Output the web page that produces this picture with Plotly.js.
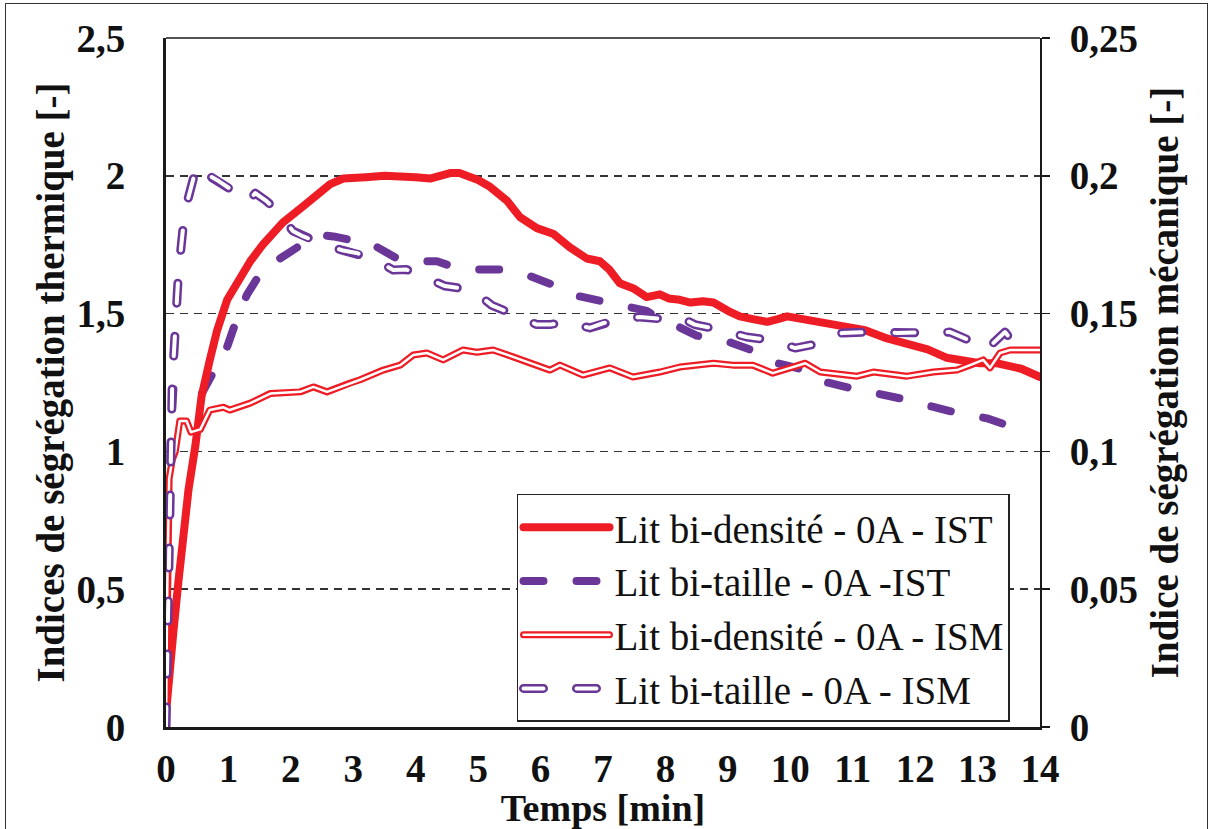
<!DOCTYPE html>
<html>
<head>
<meta charset="utf-8">
<script src="https://cdn.plot.ly/plotly-3.0.1.min.js"></script>
<style>
  html, body { margin: 0; padding: 0; background: #fff; }
  #wrap { position: relative; width: 1211px; height: 829px; overflow: hidden; }
  #chart { width: 1211px; height: 829px; }
  #frame { position: absolute; left: 5px; top: 3px; width: 1201px; height: 840px;
           border: 1.5px solid #333; pointer-events: none; }
  path.js-line { stroke-linecap: round; stroke-linejoin: round; }
</style>
</head>
<body>
<div id="wrap"><div id="chart"></div><div id="frame"></div></div>
<script>
// ---- Data ----
// Lit bi-densité - 0A - IST (left axis)
const tDensIST = [0, 0.01, 0.06, 0.12, 0.2, 0.28, 0.36, 0.47, 0.57, 0.7, 0.82, 0.98, 1.19, 1.35, 1.55, 1.87, 2.2, 2.4, 2.63, 2.84, 3.0, 3.2, 3.5, 3.8, 4.0, 4.23, 4.4, 4.55, 4.7, 4.87, 5.0, 5.19, 5.46, 5.67, 5.94, 6.2, 6.47, 6.74, 6.95, 7.1, 7.27, 7.5, 7.7, 7.91, 8.05, 8.23, 8.4, 8.6, 8.77, 9.0, 9.19, 9.4, 9.63, 9.8, 9.95, 10.2, 10.48, 10.9, 11.2, 11.55, 11.97, 12.2, 12.5, 12.8, 13.04, 13.3, 13.47, 13.7, 13.9, 14.0];
const vDensIST = [0.05, 0.08, 0.17, 0.35, 0.53, 0.71, 0.86, 1.02, 1.2, 1.33, 1.44, 1.55, 1.63, 1.69, 1.75, 1.83, 1.89, 1.93, 1.97, 1.99, 1.99, 1.995, 2.0, 2.0, 1.995, 1.99, 2.0, 2.01, 2.01, 2.0, 1.985, 1.96, 1.91, 1.85, 1.81, 1.79, 1.74, 1.70, 1.69, 1.66, 1.61, 1.59, 1.56, 1.57, 1.555, 1.55, 1.54, 1.545, 1.54, 1.51, 1.49, 1.48, 1.47, 1.48, 1.49, 1.48, 1.47, 1.45, 1.44, 1.41, 1.38, 1.37, 1.34, 1.33, 1.32, 1.32, 1.31, 1.30, 1.28, 1.27];

// Lit bi-taille - 0A -IST (left axis)
const tTailIST = [0, 0.02, 0.04, 0.06, 0.08, 0.12, 0.3, 0.55, 0.7, 0.82, 0.98, 1.15, 1.3, 1.55, 1.87, 2.1, 2.3, 2.5, 2.68, 2.9, 3.16, 3.48, 3.7, 3.96, 4.34, 4.6, 4.82, 5.19, 5.4, 5.67, 6.04, 6.25, 6.47, 6.84, 7.1, 7.32, 7.7, 7.9, 8.07, 8.23, 8.5, 8.75, 8.98, 9.35, 9.6, 9.79, 10.15, 10.4, 10.59, 10.96, 11.2, 11.44, 11.81, 12.05, 12.29, 12.67, 12.9, 13.15, 13.6, 13.8];
const vTailIST = [0, 0.3, 0.6, 0.9, 1.1, 1.23, 1.21, 1.2, 1.26, 1.32, 1.38, 1.49, 1.57, 1.66, 1.71, 1.74, 1.76, 1.785, 1.78, 1.77, 1.77, 1.73, 1.70, 1.69, 1.69, 1.67, 1.66, 1.66, 1.66, 1.65, 1.62, 1.60, 1.57, 1.55, 1.54, 1.53, 1.51, 1.48, 1.46, 1.45, 1.42, 1.41, 1.40, 1.37, 1.34, 1.32, 1.30, 1.27, 1.25, 1.23, 1.22, 1.21, 1.19, 1.175, 1.16, 1.14, 1.13, 1.12, 1.085, 1.07];

// Lit bi-densité - 0A - ISM (right axis)
const tDensISM = [0, 0.02, 0.05, 0.1, 0.15, 0.22, 0.33, 0.4, 0.55, 0.7, 0.92, 1.02, 1.35, 1.67, 2.15, 2.36, 2.58, 2.95, 3.11, 3.48, 3.75, 3.96, 4.18, 4.44, 4.76, 4.98, 5.24, 5.56, 5.83, 6.15, 6.31, 6.68, 7.11, 7.48, 7.91, 8.23, 8.77, 9.08, 9.4, 9.72, 10.0, 10.24, 10.48, 11.07, 11.33, 11.87, 12.29, 12.67, 12.88, 13.09, 13.2, 13.36, 13.52, 14.0];
const vDensISM = [0, 0.05, 0.09, 0.097, 0.1, 0.111, 0.111, 0.107, 0.108, 0.115, 0.116, 0.115, 0.1175, 0.121, 0.1216, 0.1234, 0.1216, 0.1248, 0.126, 0.1295, 0.1313, 0.135, 0.1357, 0.1332, 0.1368, 0.136, 0.1368, 0.1343, 0.132, 0.1295, 0.1313, 0.1277, 0.1303, 0.127, 0.1288, 0.1306, 0.132, 0.1313, 0.1313, 0.1284, 0.1303, 0.132, 0.1288, 0.1273, 0.1288, 0.1273, 0.1288, 0.1295, 0.1313, 0.1332, 0.1303, 0.1357, 0.1368, 0.1368];

// Lit bi-taille - 0A - ISM (right axis)
const tTailISM = [0, 0.03, 0.06, 0.1, 0.2, 0.3, 0.45, 0.55, 0.62, 0.7, 0.85, 1.11, 1.3, 1.43, 1.6, 1.8, 2.03, 2.2, 2.47, 2.82, 3.05, 3.32, 3.64, 3.85, 4.07, 4.47, 4.9, 5.22, 5.59, 5.94, 6.15, 6.39, 6.79, 7.0, 7.22, 7.59, 8.0, 8.23, 8.47, 8.9, 9.3, 9.67, 10.08, 10.48, 10.83, 11.3, 11.71, 12.13, 12.56, 12.93, 13.09, 13.25, 13.44, 13.52, 13.7, 13.87];
const vTailISM = [0, 0.04, 0.08, 0.125, 0.165, 0.187, 0.2, 0.204, 0.201, 0.2, 0.198, 0.194, 0.1905, 0.1937, 0.191, 0.187, 0.18, 0.178, 0.1756, 0.173, 0.172, 0.170, 0.1658, 0.166, 0.164, 0.160, 0.1586, 0.153, 0.1495, 0.146, 0.146, 0.147, 0.1448, 0.1465, 0.1477, 0.1488, 0.148, 0.1488, 0.146, 0.144, 0.1415, 0.1404, 0.1375, 0.1393, 0.143, 0.1433, 0.143, 0.143, 0.1433, 0.1397, 0.1368, 0.1393, 0.1433, 0.141, 0.139, 0.1386];

// Tick labels
const xTickVals = [0,1,2,3,4,5,6,7,8,9,10,11,12,13,14];
const xTickText = ['0','1','2','3','4','5','6','7','8','9','10','11','12','13','14'];
const yTickVals = [0, 0.5, 1, 1.5, 2, 2.5];
const yTickText = ['0','0,5','1','1,5','2','2,5'];
const y2TickVals = [0, 0.05, 0.1, 0.15, 0.2, 0.25];
const y2TickText = ['0','0,05','0,1','0,15','0,2','0,25'];

const names = ['Lit bi-densité - 0A - IST', 'Lit bi-taille - 0A -IST', 'Lit bi-densité - 0A - ISM', 'Lit bi-taille - 0A - ISM'];

// ---- Styles ----
const RED = '#ee1c24';
const PURPLE = '#6a3799';
const DASH = '20px,33px';
const TR = 'rgba(0,0,0,0)';
const FONT = 'Liberation Serif';

const traces = [
  // legend2 placeholders (transparent) so rows line up
  {x: tDensIST, y: vDensIST, mode: 'lines', name: names[0], legend: 'legend2', legendrank: 1,
   line: {color: TR, width: 1}, hoverinfo: 'skip'},
  {x: tTailIST, y: vTailIST, mode: 'lines', name: names[1], legend: 'legend2', legendrank: 2,
   line: {color: TR, width: 1}, hoverinfo: 'skip'},
  // thick IST lines
  {x: tTailIST, y: vTailIST, mode: 'lines', name: names[1], legendrank: 2,
   line: {color: PURPLE, width: 8, dash: DASH}},
  {x: tDensIST, y: vDensIST, mode: 'lines', name: names[0], legendrank: 1,
   line: {color: RED, width: 8}},
  // ISM hollow lines (right axis)
  {x: tDensISM, y: vDensISM, mode: 'lines', name: names[2], yaxis: 'y2', legendrank: 3,
   line: {color: RED, width: 7}},
  {x: tDensISM, y: vDensISM, mode: 'lines', name: names[2], yaxis: 'y2', legend: 'legend2', legendrank: 3,
   line: {color: '#ffffff', width: 2.5}},
  {x: tTailISM, y: vTailISM, mode: 'lines', name: names[3], yaxis: 'y2', legendrank: 4,
   line: {color: PURPLE, width: 9, dash: DASH}},
  {x: tTailISM, y: vTailISM, mode: 'lines', name: names[3], yaxis: 'y2', legend: 'legend2', legendrank: 4,
   line: {color: '#ffffff', width: 4, dash: DASH}}
];

const legendBase = {
  x: 0.4016, y: 0.0073, xanchor: 'left', yanchor: 'bottom',
  font: {family: FONT, size: 39, color: '#111'},
  itemwidth: 86, borderwidth: 1.5, bordercolor: '#222', bgcolor: '#ffffff',
  traceorder: 'normal', tracegroupgap: 0
};

const layout = {
  width: 1211, height: 829,
  margin: {l: 166, r: 171, t: 38, b: 102},
  paper_bgcolor: '#ffffff', plot_bgcolor: '#ffffff',
  showlegend: true,
  font: {family: FONT, color: '#111'},
  xaxis: {
    range: [0, 14], tickvals: xTickVals, ticktext: xTickText,
    showline: true, linecolor: '#1a1a1a', linewidth: 3, ticks: '', showgrid: false, zeroline: false,
    tickfont: {family: FONT, size: 39, weight: 700, color: '#111'}, ticklabelstandoff: 5,
    title: {text: 'Temps [min]', font: {family: FONT, size: 38, weight: 700, color: '#111'}, standoff: 4}
  },
  yaxis: {
    range: [0, 2.5], tickvals: yTickVals, ticktext: yTickText,
    showline: true, linecolor: '#1a1a1a', linewidth: 3, ticks: '', zeroline: false,
    showgrid: true, gridcolor: '#333', gridwidth: 1.5, griddash: '8px,6px',
    tickfont: {family: FONT, size: 39, weight: 700, color: '#111'}, ticklabelstandoff: 30,
    title: {text: 'Indices de ségrégation thermique [-]', font: {family: FONT, size: 39, weight: 700, color: '#111'}, standoff: 0}
  },
  yaxis2: {
    range: [0, 0.25], tickvals: y2TickVals, ticktext: y2TickText,
    overlaying: 'y', side: 'right', showgrid: false, zeroline: false,
    showline: true, linecolor: '#1a1a1a', linewidth: 2,
    ticks: 'outside', ticklen: 8, tickwidth: 1.5, tickcolor: '#1a1a1a',
    tickfont: {family: FONT, size: 39, weight: 700, color: '#111'}, ticklabelstandoff: 12,
    title: {text: 'Indice de ségrégation mécanique [-]', font: {family: FONT, size: 39, weight: 700, color: '#111'}, standoff: 14}
  },
  legend: Object.assign({}, legendBase),
  legend2: Object.assign({}, legendBase, {bgcolor: TR, bordercolor: TR, font: {family: FONT, size: 39, color: TR}}),
  shapes: [
    {type: 'line', xref: 'paper', yref: 'paper', x0: 0, x1: 1, y0: 1, y1: 1, line: {color: '#1a1a1a', width: 1.5}}
  ]
};

Plotly.newPlot('chart', traces, layout, {displayModeBar: false, staticPlot: true});
</script>
</body>
</html>
